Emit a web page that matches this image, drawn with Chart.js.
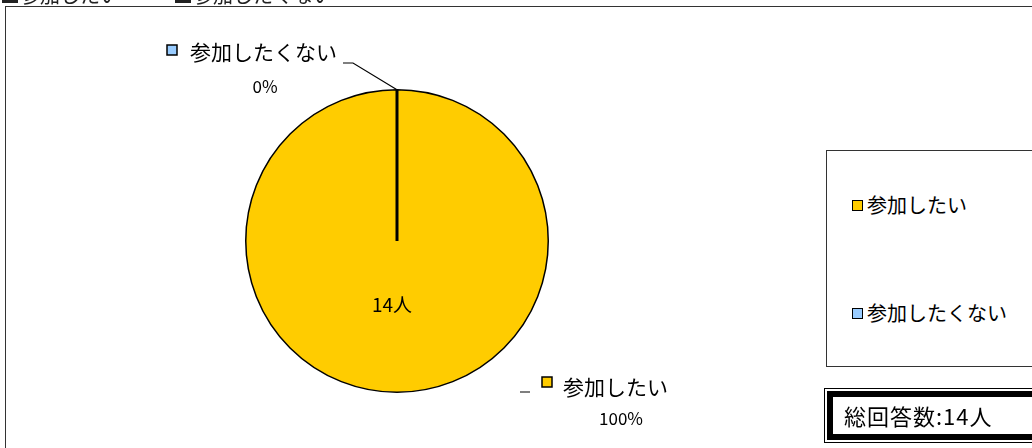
<html>
<head>
<meta charset="utf-8">
<script src="https://cdn.jsdelivr.net/npm/chart.js@4/dist/chart.umd.min.js"></script>
<style>
  body { margin:0; width:1032px; height:448px; overflow:hidden; background:#fff; position:relative;
         font-family:"Noto Sans CJK JP", sans-serif; color:#000; }
  #frame { position:absolute; left:5px; top:6px; width:1100px; height:500px; border:1px solid #333; }
  .head { position:absolute; top:-15px; font-size:20px; line-height:20px; white-space:nowrap; color:#222; }
  #wrap { position:absolute; left:0; top:0; width:1032px; height:448px; }
  #legend { position:absolute; left:826px; top:150px; width:220px; height:215px; border:1px solid #333; background:#fff; }
  .item { position:absolute; left:25px; font-size:20px; line-height:22px; white-space:nowrap; }
  .sw { display:inline-block; width:9px; height:9px; border:1px solid #000; margin-right:4px; vertical-align:2px; }
  #totalOuter { position:absolute; left:824px; top:388px; width:230px; height:53px; border:1px solid #000; }
  #total { position:absolute; left:2px; top:2px; width:220px; height:37px; border:6px solid #000;
           font-size:22px; line-height:37px; padding-left:11px; letter-spacing:1px; white-space:nowrap; }
</style>
</head>
<body>
<div id="frame"></div>
<div id="wrap"><canvas id="myChart" width="1032" height="448"></canvas></div>
<div id="legend"></div>
<div id="totalOuter"><div id="total"></div></div>
<script>
var categories = ['参加したい', '参加したくない'];
var counts = [14, 0];
var percents = ['100%', '0%'];
var colors = ['#FFCC00', '#99CCFF'];
var totalLabel = '総回答数:14人';

// clipped heading at the very top
[0, 173].forEach(function (x, i) {
  var h = document.createElement('div');
  h.className = 'head';
  h.style.left = x + 'px';
  h.textContent = '■' + categories[i];
  document.body.appendChild(h);
});

document.getElementById('total').textContent = totalLabel;
var lg = document.getElementById('legend');
categories.forEach(function (c, i) {
  var d = document.createElement('div');
  d.className = 'item';
  d.style.top = (i == 0 ? 43 : 151) + 'px';
  d.innerHTML = '<span class="sw" style="background:' + colors[i] + '"></span>' + c;
  lg.appendChild(d);
});

var labelPlugin = {
  id: 'pieLabels',
  afterDatasetsDraw: function (chart) {
    var ctx = chart.ctx;
    var a = chart.getDatasetMeta(0).data[0];
    var topX = a.x + Math.cos(a.startAngle) * a.outerRadius;
    var topY = a.y + Math.sin(a.startAngle) * a.outerRadius;
    ctx.save();
    // radial line at the start of the slices
    ctx.strokeStyle = '#000';
    ctx.lineWidth = 3;
    ctx.beginPath();
    ctx.moveTo(a.x, a.y);
    ctx.lineTo(topX, topY);
    ctx.stroke();

    // value label inside
    ctx.fillStyle = '#000';
    ctx.font = '19px "Noto Sans CJK JP"';
    ctx.textAlign = 'center';
    ctx.textBaseline = 'middle';
    ctx.fillText(counts[0] + '人', a.x - 5, a.y + 64);

    // outer labels
    var spots = [
      { sx: a.x + 145, sy: a.y + 136, tx: a.x + 166, ty: a.y + 146, px: a.x + 224, py: a.y + 178 },
      { sx: a.x - 230, sy: a.y - 196, tx: a.x - 207, ty: a.y - 189, px: a.x - 132, py: a.y - 154 }
    ];
    categories.forEach(function (c, i) {
      var s = spots[i];
      ctx.fillStyle = colors[i];
      ctx.fillRect(s.sx, s.sy, 10, 10);
      ctx.strokeStyle = '#000';
      ctx.lineWidth = 1.5;
      ctx.strokeRect(s.sx, s.sy, 10, 10);
      ctx.fillStyle = '#000';
      ctx.font = '21px "Noto Sans CJK JP"';
      ctx.textAlign = 'left';
      ctx.fillText(c, s.tx, s.ty);
      ctx.font = '17px "Noto Sans CJK JP"';
      ctx.textAlign = 'center';
      ctx.fillText(percents[i], s.px, s.py);
    });

    // leader lines
    ctx.lineWidth = 1.2;
    ctx.beginPath();
    ctx.moveTo(a.x - 54, a.y - 178);
    ctx.lineTo(a.x - 44, a.y - 178);
    ctx.lineTo(topX, topY);
    ctx.moveTo(a.x + 123, a.y + 151);
    ctx.lineTo(a.x + 133, a.y + 151);
    ctx.stroke();
    ctx.restore();
  }
};

var chart = new Chart(document.getElementById('myChart').getContext('2d'), {
  type: 'pie',
  data: {
    labels: categories,
    datasets: [{
      data: counts,
      backgroundColor: colors,
      borderColor: '#000',
      borderWidth: 1.5
    }]
  },
  options: {
    responsive: false,
    animation: false,
    layout: { padding: { left: 245, right: 483, top: 89, bottom: 55 } },
    plugins: { legend: { display: false }, tooltip: { enabled: false } }
  },
  plugins: [labelPlugin]
});
</script>
</body>
</html>
